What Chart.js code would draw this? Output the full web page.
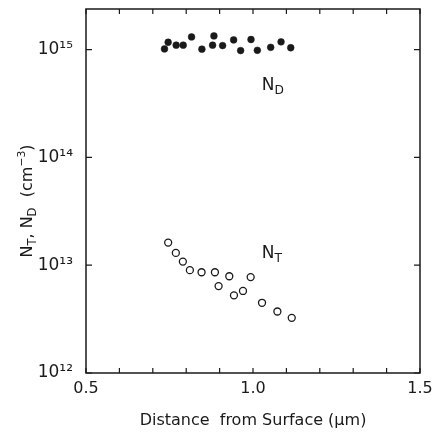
<!DOCTYPE html>
<html>
<head>
<meta charset="utf-8">
<script src="https://cdn.jsdelivr.net/npm/chart.js@4.4.0/dist/chart.umd.min.js"></script>
<style>
  html, body { margin: 0; padding: 0; background: #fff; }
  #c { display: block; }
</style>
</head>
<body>
<canvas id="c" width="433" height="435"></canvas>
<script>
// ---- data ----
const distND = [0.735, 0.746, 0.770, 0.791, 0.816, 0.847, 0.879, 0.883, 0.909, 0.942, 0.963, 0.994, 1.013, 1.053, 1.084, 1.113];
const ND     = [1.015e15, 1.17e15, 1.10e15, 1.10e15, 1.31e15, 1.01e15, 1.10e15, 1.34e15, 1.09e15, 1.23e15, 0.98e15, 1.24e15, 0.985e15, 1.05e15, 1.18e15, 1.04e15];

const distNT = [0.746, 0.769, 0.790, 0.811, 0.846, 0.886, 0.897, 0.929, 0.943, 0.970, 0.993, 1.027, 1.073, 1.116];
const NT     = [1.62e13, 1.30e13, 1.08e13, 9.0e12, 8.6e12, 8.6e12, 6.4e12, 7.9e12, 5.25e12, 5.77e12, 7.76e12, 4.48e12, 3.72e12, 3.25e12];

const xTickValues = [0.5, 1.0, 1.5];
const xMinorStep = 0.1;
const yTickValues = [1e12, 1e13, 1e14, 1e15];
const yMin = 1e12, yMax = 2.38e15;

const xTitle = 'Distance  from Surface (\u00b5m)';
// series labels placed in data coordinates
const seriesLabels = [
  { main: 'N', sub: 'D', x: 1.026, y: 4.6e14 },
  { main: 'N', sub: 'T', x: 1.026, y: 1.29e13 }
];

const FONT = '"DejaVu Sans", "Liberation Sans", sans-serif';
const INK = '#1a1a1a';
const supDigits = {'0':'\u2070','1':'\u00b9','2':'\u00b2','3':'\u00b3','4':'\u2074','5':'\u2075','6':'\u2076','7':'\u2077','8':'\u2078','9':'\u2079'};
function supStr(n){ return String(n).split('').map(c => supDigits[c] || c).join(''); }

function drawRich(ctx, segs, x, y, size) {
  let cx = x;
  for (const s of segs) {
    let fs = size, dy = 0;
    if (s.sub) { fs = size * 0.72; dy = size * 0.30; }
    if (s.sup) { fs = size * 0.68; dy = -size * 0.38; }
    ctx.font = fs + 'px ' + FONT;
    ctx.textBaseline = 'middle';
    ctx.textAlign = 'left';
    ctx.fillText(s.t, cx, y + dy);
    cx += ctx.measureText(s.t).width;
  }
  return cx - x;
}
function measureRich(ctx, segs, size) {
  let w = 0;
  for (const s of segs) {
    let fs = size;
    if (s.sub) fs = size * 0.72;
    if (s.sup) fs = size * 0.68;
    ctx.font = fs + 'px ' + FONT;
    w += ctx.measureText(s.t).width;
  }
  return w;
}

const framePlugin = {
  id: 'frame',
  afterDraw(chart) {
    const ctx = chart.ctx;
    const a = chart.chartArea;
    const xs = chart.scales.x, ys = chart.scales.y;
    ctx.save();
    ctx.strokeStyle = INK;
    ctx.lineWidth = 1.5;
    ctx.strokeRect(a.left, a.top, a.right - a.left, a.bottom - a.top);
    ctx.lineWidth = 1.2;
    ctx.beginPath();
    for (let v = xs.min; v <= xs.max + 1e-9; v += xMinorStep) {
      const px = xs.getPixelForValue(v);
      ctx.moveTo(px, a.bottom); ctx.lineTo(px, a.bottom - 5);
      ctx.moveTo(px, a.top); ctx.lineTo(px, a.top + 5);
    }
    for (const v of yTickValues) {
      const py = ys.getPixelForValue(v);
      ctx.moveTo(a.left, py); ctx.lineTo(a.left + 6, py);
      ctx.moveTo(a.right, py); ctx.lineTo(a.right - 6, py);
    }
    ctx.stroke();

    ctx.fillStyle = INK;
    const ySegs = [{t:'N'},{t:'T',sub:true},{t:', N'},{t:'D',sub:true},{t:'  (cm'},{t:'\u22123',sup:true},{t:')'}];
    const size = 16;
    const w = measureRich(ctx, ySegs, size);
    ctx.translate(28, (a.top + a.bottom) / 2 + 10);
    ctx.rotate(-Math.PI / 2);
    drawRich(ctx, ySegs, -w / 2, 0, size);
    ctx.setTransform(1, 0, 0, 1, 0, 0);

    for (const l of seriesLabels) {
      const px = xs.getPixelForValue(l.x);
      const py = ys.getPixelForValue(l.y);
      drawRich(ctx, [{t:l.main},{t:l.sub,sub:true}], px, py, 17);
    }
    ctx.restore();
  }
};

new Chart(document.getElementById('c'), {
  type: 'scatter',
  data: {
    datasets: [
      {
        label: 'ND',
        data: distND.map((x, i) => ({ x, y: ND[i] })),
        pointRadius: 3.4,
        pointBackgroundColor: INK,
        pointBorderColor: INK,
        pointBorderWidth: 0.5
      },
      {
        label: 'NT',
        data: distNT.map((x, i) => ({ x, y: NT[i] })),
        pointRadius: 3.5,
        pointBackgroundColor: '#fff',
        pointBorderColor: INK,
        pointBorderWidth: 1.3
      }
    ]
  },
  options: {
    responsive: false,
    animation: false,
    devicePixelRatio: 1,
    layout: { padding: { left: 0, right: 13, top: 9, bottom: 0 } },
    plugins: { legend: { display: false }, tooltip: { enabled: false } },
    scales: {
      x: {
        type: 'linear',
        min: 0.5, max: 1.5,
        afterBuildTicks: s => { s.ticks = xTickValues.map(v => ({ value: v })); },
        afterFit: s => { s.height = 62; s.paddingLeft = 0; s.paddingRight = 0; },
        ticks: {
          callback: v => Number(v).toFixed(1),
          font: { family: FONT, size: 16 },
          color: INK,
          padding: 6,
          maxRotation: 0
        },
        grid: { display: false, drawTicks: false },
        border: { display: false },
        title: {
          display: true,
          text: xTitle,
          font: { family: FONT, size: 16 },
          color: INK,
          padding: { top: 0, bottom: 5 }
        }
      },
      y: {
        type: 'logarithmic',
        min: yMin, max: yMax,
        afterBuildTicks: s => { s.ticks = yTickValues.map(v => ({ value: v })); },
        afterFit: s => { s.width = 86; s.paddingTop = 0; s.paddingBottom = 0; },
        ticks: {
          callback: v => '10' + supStr(Math.round(Math.log10(v))),
          font: { family: FONT, size: 17 },
          color: INK,
          padding: 13,
          autoSkip: false
        },
        grid: { display: false, drawTicks: false },
        border: { display: false }
      }
    }
  },
  plugins: [framePlugin]
});
</script>
</body>
</html>
